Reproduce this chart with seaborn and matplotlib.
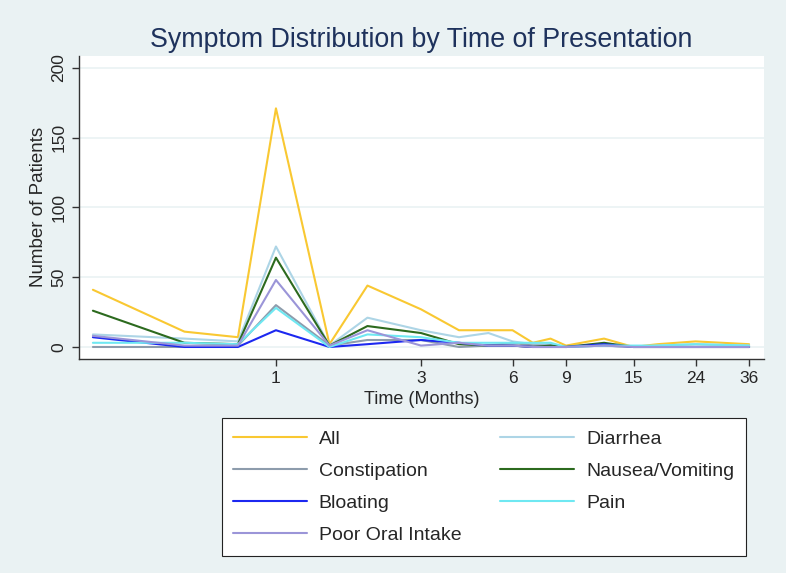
import numpy as np
import pandas as pd
import seaborn as sns
import matplotlib.pyplot as plt

# data (months on a log axis)
months = [0.25, 0.5, 0.75, 1, 1.5, 2, 3, 4, 5, 6, 7, 8, 9, 12, 15, 18, 24, 36]
all_pts = [41, 11, 7, 171, 2, 44, 27, 12, 12, 12, 3, 6, 1, 6, 0, 2, 4, 2]
diarrhea = [9, 6, 4, 72, 1, 21, 12, 7, 10, 4, 2, 2, 0, 1, 0, 1, 2, 1]
constipation = [0, 0, 1, 30, 1, 5, 5, 0, 1, 3, 1, 1, 0, 1, 0, 0, 0, 0]
nausea = [26, 3, 2, 64, 1, 15, 10, 2, 1, 1, 0, 1, 0, 3, 0, 0, 0, 0]
bloating = [7, 0, 0, 12, 0, 2, 5, 3, 1, 1, 0, 0, 0, 2, 0, 0, 0, 0]
pain = [3, 3, 2, 28, 0, 9, 7, 3, 3, 3, 3, 3, 0, 1, 1, 1, 2, 1]
poor_oral = [8, 1, 1, 48, 1, 12, 1, 3, 1, 1, 0, 0, 0, 1, 0, 0, 0, 0]

xticks = [1, 3, 6, 9, 15, 24, 36]
xticklabels = ['1', '3', '6', '9', '15', '24', '36']

series = {
    'All': all_pts,
    'Diarrhea': diarrhea,
    'Constipation': constipation,
    'Nausea/Vomiting': nausea,
    'Bloating': bloating,
    'Pain': pain,
    'Poor Oral Intake': poor_oral,
}
colors = {
    'All': '#F9C832',
    'Diarrhea': '#ADD5E6',
    'Constipation': '#8D9CAC',
    'Nausea/Vomiting': '#2C6A1E',
    'Bloating': '#1C28F0',
    'Pain': '#6FE8F2',
    'Poor Oral Intake': '#9B95D8',
}

df = pd.DataFrame([
    {'Time': m, 'Patients': v, 'Symptom': name}
    for name, vals in series.items()
    for m, v in zip(months, vals)
])

# styling
sns.set_style('white')
plt.rcParams['font.family'] = ['Liberation Sans', 'DejaVu Sans']
bg = '#EAF2F3'

fig = plt.figure(figsize=(7.86, 5.73), dpi=100, facecolor=bg)
ax = fig.add_axes([0.1005, 0.3735, 0.8715, 0.5295])
ax.set_facecolor('white')

sns.lineplot(data=df, x='Time', y='Patients', hue='Symptom',
             palette=colors, linewidth=1.5, ax=ax, legend=False, zorder=3)

ax.set_xscale('log')
ax.set_xlim(0.225, 40.3)
ax.set_ylim(-8.6, 208.8)
ax.set_xticks(xticks)
ax.set_xticklabels(xticklabels)
ax.minorticks_off()
ax.set_yticks([0, 50, 100, 150, 200])
ax.set_yticklabels(['0', '50', '100', '150', '200'], rotation=90, va='center')
ax.yaxis.grid(True, color=bg, linewidth=1.2)
ax.tick_params(axis='both', direction='out', length=5, width=1, color='#333333',
               labelsize=12.5, pad=4, left=True, bottom=True)

for side in ['top', 'right']:
    ax.spines[side].set_visible(False)
for side in ['left', 'bottom']:
    ax.spines[side].set_color('#333333')
    ax.spines[side].set_linewidth(1)

ax.set_xlabel('Time (Months)', fontsize=13, labelpad=3)
ax.set_ylabel('Number of Patients', fontsize=13.5, labelpad=3)
ax.set_title('Symptom Distribution by Time of Presentation', fontsize=19.3,
             color='#1E325C', pad=6)

# legend: row-major order like the reference
order = ['All', 'Constipation', 'Bloating', 'Poor Oral Intake',
         'Diarrhea', 'Nausea/Vomiting', 'Pain']
handles = [plt.Line2D([], [], color=colors[k], linewidth=1.5) for k in order]
leg = fig.legend(handles, order, ncol=2, loc='upper left',
                 bbox_to_anchor=(0.282, 0.27),
                 fontsize=14, handlelength=3.8, handletextpad=0.6,
                 columnspacing=2.0, labelspacing=0.75, borderpad=0.6,
                 borderaxespad=0, frameon=True, fancybox=False, framealpha=1)
leg.get_frame().set_edgecolor('#222222')
leg.get_frame().set_linewidth(0.8)

fig.savefig('out.png', dpi=100, facecolor=bg)
